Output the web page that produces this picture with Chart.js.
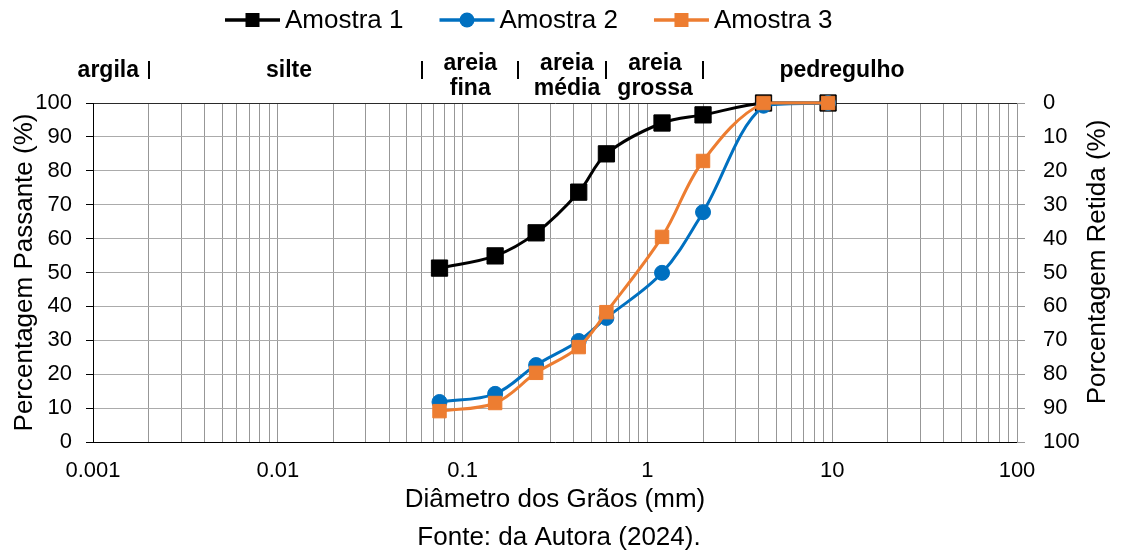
<!DOCTYPE html>
<html>
<head>
<meta charset="utf-8">
<script src="https://cdn.jsdelivr.net/npm/chart.js@4.4.1/dist/chart.umd.min.js"></script>
<style>
  html, body { margin: 0; padding: 0; background: #fff; }
  #wrap { width: 1125px; height: 553px; }
</style>
</head>
<body>
<div id="wrap"><canvas id="c" width="1125" height="553"></canvas></div>
<script>
// Grain size distribution (curva granulométrica)
const grainSizes = [0.075, 0.15, 0.25, 0.425, 0.6, 1.2, 2.0, 4.25, 9.5];
const amostra1 = [51.3, 54.9, 61.7, 73.7, 85.0, 94.1, 96.5, 100, 100];
const amostra2 = [11.8, 14.2, 22.7, 29.8, 36.6, 49.9, 67.8, 99.2, 100];
const amostra3 = [9.1, 11.5, 20.4, 28.0, 38.3, 60.5, 82.9, 100, 100];
const seriesNames = ['Amostra 1', 'Amostra 2', 'Amostra 3'];
const xTickLabels = ['0.001', '0.01', '0.1', '1', '10', '100'];
const yTickStep = 10;

// Soil classes (ABNT) shown above the plot
const classNames = [['argila'], ['silte'], ['areia', 'fina'], ['areia', 'média'], ['areia', 'grossa'], ['pedregulho']];
const classCenters = [0.00121, 0.0115, 0.110, 0.367, 1.10, 11.3];
const classLimits = [0.002, 0.06, 0.2, 0.6, 2.0];

const FONT = "'Liberation Sans', Arial, sans-serif";
const colors = ['#000000', '#0070C0', '#ED7D31'];
const styles = [
  { pointStyle: 'rect', radius: 11.5 },
  { pointStyle: 'circle', radius: 7.5 },
  { pointStyle: 'rect', radius: 9.5 }
];
const seriesValues = [amostra1, amostra2, amostra3];

const datasets = seriesValues.map((vals, i) => ({
  label: seriesNames[i],
  data: grainSizes.map((x, k) => ({ x: x, y: vals[k] })),
  borderColor: colors[i],
  backgroundColor: colors[i],
  pointBackgroundColor: colors[i],
  pointBorderColor: colors[i],
  pointBorderWidth: 1,
  pointStyle: styles[i].pointStyle,
  pointRadius: styles[i].radius,
  pointHoverRadius: styles[i].radius,
  borderWidth: 3,
  tension: 0.35,
  clip: false,
  order: 3 - i,
  yAxisID: 'y'
}));

function isPow10(v) {
  const l = Math.log10(v);
  return Math.abs(l - Math.round(l)) < 1e-9;
}

// Legend, class labels, right axis title and source note
const decorations = {
  id: 'decorations',
  afterDraw(chart) {
    const ctx = chart.ctx;
    const xs = chart.scales.x;
    ctx.save();

    // legend
    ctx.font = '26px ' + FONT;
    ctx.textBaseline = 'alphabetic';
    ctx.textAlign = 'left';
    let lx = 225;
    const ly = 20;
    chart.data.datasets.forEach((ds, i) => {
      ctx.strokeStyle = ds.borderColor;
      ctx.lineWidth = 3.5;
      ctx.beginPath();
      ctx.moveTo(lx, ly);
      ctx.lineTo(lx + 55, ly);
      ctx.stroke();
      ctx.fillStyle = ds.borderColor;
      const cx = lx + 27.5;
      if (ds.pointStyle === 'circle') {
        ctx.beginPath();
        ctx.arc(cx, ly, 7.5, 0, Math.PI * 2);
        ctx.fill();
      } else {
        ctx.fillRect(cx - 7, ly - 7, 14, 14);
      }
      ctx.fillStyle = '#000';
      ctx.fillText(ds.label, lx + 60, 28);
      lx += 60 + ctx.measureText(ds.label).width + 36;
    });

    // soil class names
    ctx.font = 'bold 23px ' + FONT;
    ctx.textAlign = 'center';
    classNames.forEach((lines, i) => {
      const px = xs.getPixelForValue(classCenters[i]);
      if (lines.length === 1) {
        ctx.fillText(lines[0], px, 77);
      } else {
        ctx.fillText(lines[0], px, 70);
        ctx.fillText(lines[1], px, 95);
      }
    });
    ctx.strokeStyle = '#000';
    ctx.lineWidth = 2;
    classLimits.forEach(v => {
      const px = Math.round(xs.getPixelForValue(v));
      ctx.beginPath();
      ctx.moveTo(px, 61);
      ctx.lineTo(px, 79);
      ctx.stroke();
    });

    // right axis title (reads bottom to top)
    ctx.font = '26px ' + FONT;
    ctx.textBaseline = 'middle';
    ctx.translate(1098, 262);
    ctx.rotate(-Math.PI / 2);
    ctx.fillText('Porcentagem Retida (%)', 0, 0);
    ctx.setTransform(1, 0, 0, 1, 0, 0);

    // source
    ctx.fillText('Fonte: da Autora (2024).', 559, 538);
    ctx.restore();
  }
};

new Chart(document.getElementById('c'), {
  type: 'line',
  data: { datasets: datasets },
  plugins: [decorations],
  options: {
    responsive: false,
    animation: false,
    layout: { padding: { top: 103, left: 0, right: 0, bottom: 0 } },
    plugins: {
      legend: { display: false },
      tooltip: { enabled: false }
    },
    scales: {
      x: {
        type: 'logarithmic',
        position: 'bottom',
        min: 0.001,
        max: 100,
        afterBuildTicks(scale) {
          const t = [];
          for (let e = -3; e <= 1; e++) {
            for (let m = 1; m <= 9; m++) t.push({ value: m * Math.pow(10, e) });
          }
          t.push({ value: 100 });
          scale.ticks = t;
        },
        ticks: {
          autoSkip: false,
          maxRotation: 0,
          minRotation: 0,
          padding: 16,
          color: '#000',
          font: { family: FONT, size: 22 },
          callback(v) {
            return isPow10(v) ? xTickLabels[Math.round(Math.log10(v)) + 3] : '';
          }
        },
        grid: {
          drawTicks: false,
          lineWidth: 1,
          color: (c) => (c.tick && Math.abs(c.tick.value - 0.001) < 1e-12) ? 'rgba(0,0,0,0)' : '#979797'
        },
        border: { color: '#000', width: 1 },
        title: {
          display: true,
          text: 'Diâmetro dos Grãos (mm)',
          color: '#000',
          font: { family: FONT, size: 26 },
          padding: { top: 0, bottom: 38 }
        },
        afterFit(scale) { scale.height = 111; }
      },
      y: {
        position: 'left',
        min: 0,
        max: 100,
        ticks: {
          stepSize: yTickStep,
          padding: 14,
          color: '#000',
          font: { family: FONT, size: 22 }
        },
        grid: {
          lineWidth: 1,
          tickLength: 7,
          tickColor: '#000',
          color: (c) => {
            if (!c.tick) return '#ababab';
            if (c.tick.value === 100) return '#2a2a2a';
            if (c.tick.value === 0) return 'rgba(0,0,0,0)';
            return '#ababab';
          }
        },
        border: { color: '#000', width: 1 },
        title: {
          display: true,
          text: 'Percentagem Passante (%)',
          color: '#000',
          font: { family: FONT, size: 26 },
          padding: { top: 9, bottom: 0 }
        },
        afterFit(scale) { scale.width = 93; }
      },
      y2: {
        position: 'right',
        reverse: true,
        min: 0,
        max: 100,
        ticks: {
          stepSize: yTickStep,
          padding: 18,
          color: '#000',
          font: { family: FONT, size: 22 }
        },
        grid: {
          drawOnChartArea: false,
          tickLength: 8,
          tickColor: '#979797'
        },
        border: { color: '#979797', width: 1 },
        afterFit(scale) { scale.width = 108; }
      }
    }
  }
});
</script>
</body>
</html>
